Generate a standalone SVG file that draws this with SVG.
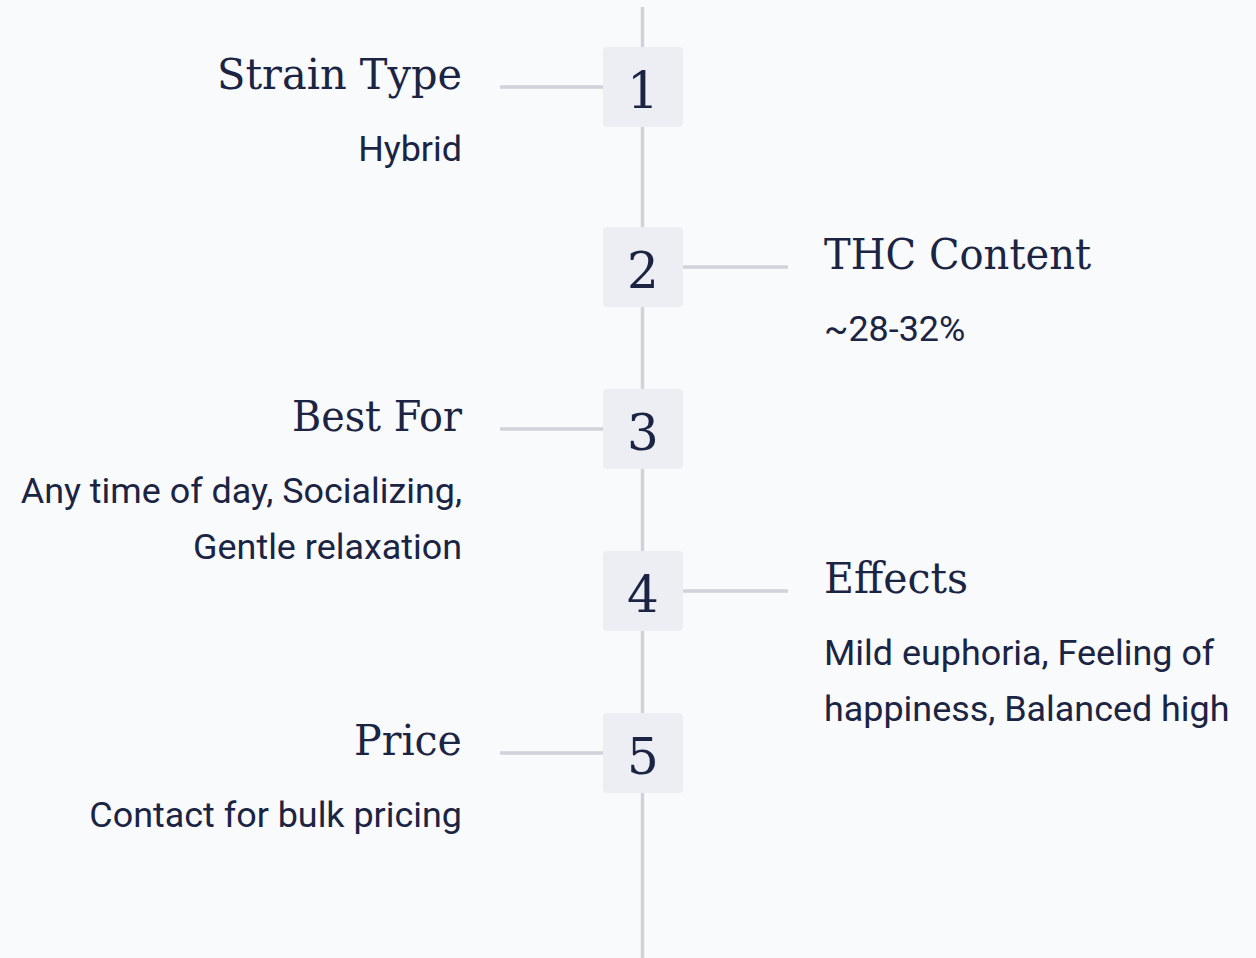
<svg xmlns="http://www.w3.org/2000/svg" width="1256" height="958" viewBox="0 0 1256 958">
<style>
.bg{fill:#f8fafc}
.spine{stroke:#d1d2da;stroke-width:3.5}
.conn{stroke:#d1d2da;stroke-width:3.5}
.box{fill:#eceef4}
.num{font-family:"DejaVu Serif","Liberation Serif",serif;font-size:50px;fill:#1b2443;text-anchor:middle}
.h{font-family:"DejaVu Serif","Liberation Serif",serif;font-size:42px;fill:#1b2443}
.b{font-family:Roboto,"Liberation Sans",sans-serif;font-size:35.9px;fill:#1b2443}
.l{text-anchor:end}
</style>
<rect class="bg" width="1256" height="958"/>
<g id="connectors">
<line class="spine" x1="642.5" y1="7" x2="642.5" y2="958"/>
<line class="conn" x1="500" y1="87" x2="604" y2="87"/>
<line class="conn" x1="683" y1="267" x2="788" y2="267"/>
<line class="conn" x1="500" y1="429" x2="604" y2="429"/>
<line class="conn" x1="683" y1="591" x2="788" y2="591"/>
<line class="conn" x1="500" y1="753" x2="604" y2="753"/>
</g>
<g id="node1">
<rect class="box" x="603" y="47" width="80" height="80" rx="4"/>
<text class="num" x="643" y="108">1</text>
<text class="h l" x="462" y="89" textLength="245" lengthAdjust="spacingAndGlyphs">Strain Type</text>
<text class="b l" x="462" y="161">Hybrid</text>
</g>
<g id="node2">
<rect class="box" x="603" y="227" width="80" height="80" rx="4"/>
<text class="num" x="643" y="288">2</text>
<text class="h" x="824" y="269" textLength="267" lengthAdjust="spacingAndGlyphs">THC Content</text>
<text class="b" x="824" y="341">~28-32%</text>
</g>
<g id="node3">
<rect class="box" x="603" y="389" width="80" height="80" rx="4"/>
<text class="num" x="643" y="450">3</text>
<text class="h l" x="462" y="431" textLength="170" lengthAdjust="spacingAndGlyphs">Best For</text>
<text class="b l" x="462" y="503">Any time of day, Socializing,</text>
<text class="b l" x="462" y="559">Gentle relaxation</text>
</g>
<g id="node4">
<rect class="box" x="603" y="551" width="80" height="80" rx="4"/>
<text class="num" x="643" y="612">4</text>
<text class="h" x="824" y="593" textLength="144" lengthAdjust="spacingAndGlyphs">Effects</text>
<text class="b" x="824" y="665">Mild euphoria, Feeling of</text>
<text class="b" x="824" y="721">happiness, Balanced high</text>
</g>
<g id="node5">
<rect class="box" x="603" y="713" width="80" height="80" rx="4"/>
<text class="num" x="643" y="774">5</text>
<text class="h l" x="462" y="755" textLength="108" lengthAdjust="spacingAndGlyphs">Price</text>
<text class="b l" x="462" y="827">Contact for bulk pricing</text>
</g>
</svg>
